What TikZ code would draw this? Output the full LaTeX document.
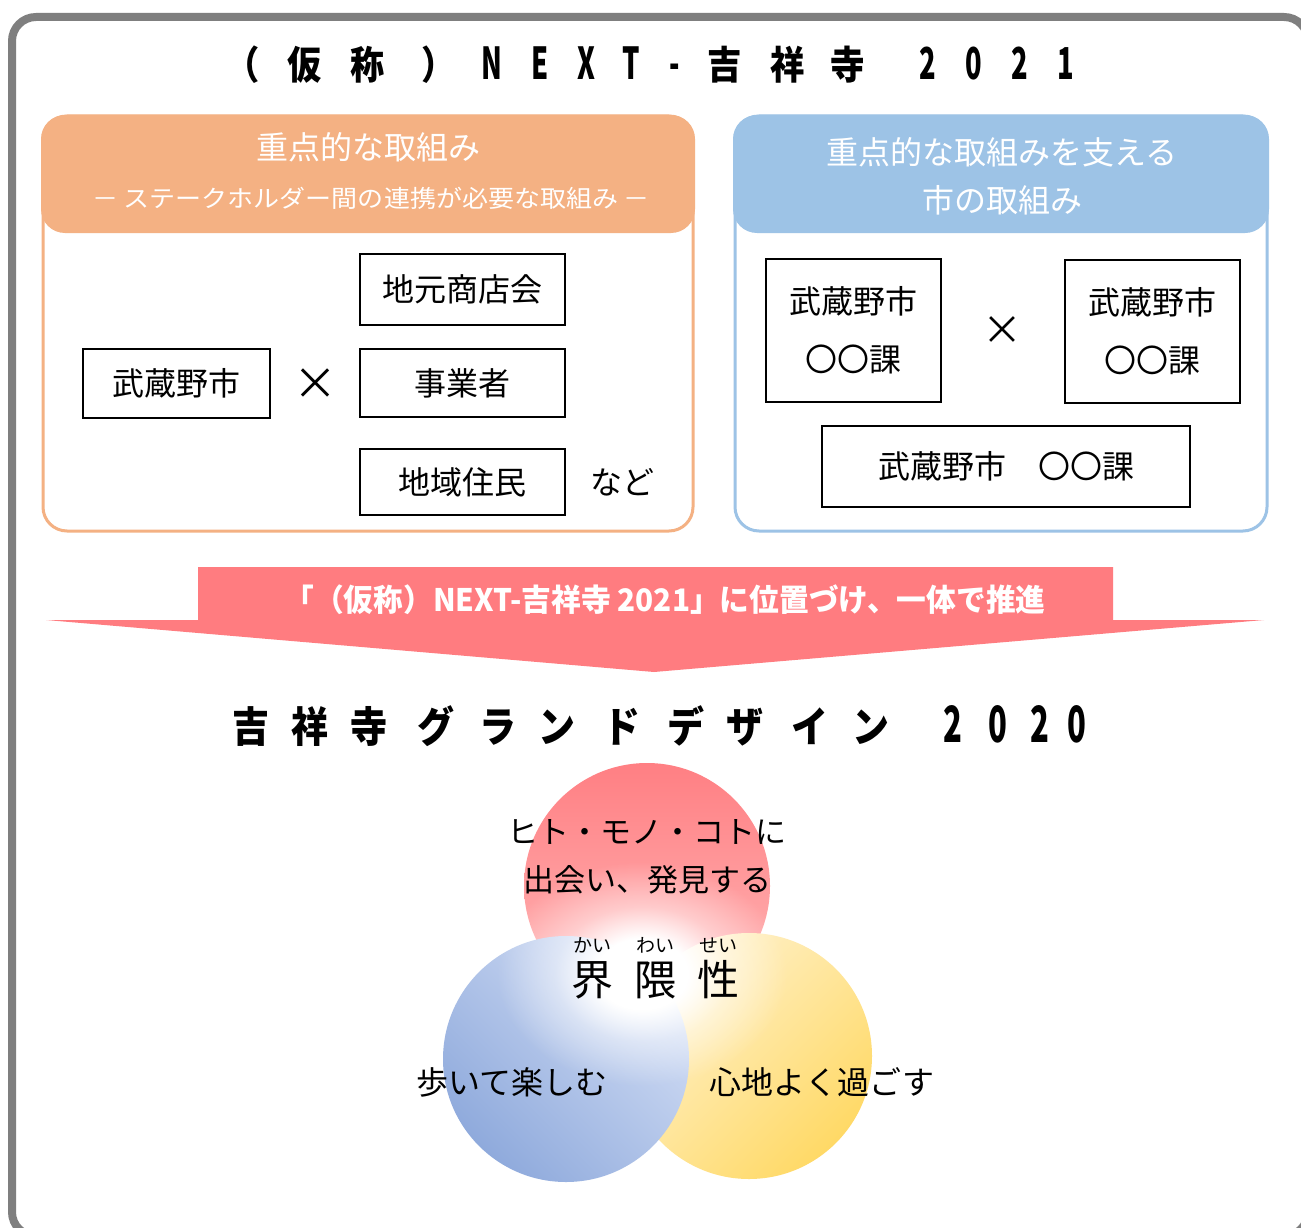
\documentclass[tikz,border=0pt]{standalone}
\usepackage{fontspec}
\usepackage{graphicx}
\usetikzlibrary{fadings}
\setmainfont{Noto Sans CJK JP}
\newfontfamily\tk[FakeStretch=0.88]{Noto Sans CJK JP}
\newfontfamily\tl[FakeStretch=0.62]{Noto Sans CJK JP}
\definecolor{framegray}{HTML}{7F7F7F}
\definecolor{orng}{HTML}{F4B183}
\definecolor{blu}{HTML}{9DC3E6}
\definecolor{banner}{HTML}{FF7C80}
\definecolor{redtop}{HTML}{FF7F83}
\definecolor{redbot}{HTML}{FFB8B8}
\definecolor{bluedark}{HTML}{8FAADC}
\definecolor{bluelight}{HTML}{D3DEF5}
\definecolor{yeldark}{HTML}{FFD966}
\definecolor{yellight}{HTML}{FFF2CF}
\pgfdeclareradialshading{glowshade}{\pgfpoint{0bp}{0bp}}{color(0bp)=(white); color(8bp)=(white); color(15bp)=(white!45!black); color(25bp)=(black); color(50bp)=(black)}
\pgfdeclarefading{glowfade}{\pgfuseshading{glowshade}}
\tikzset{
  blackbox/.style={draw=black, line width=2.5, inner sep=0, align=center},
  bodytext/.style={font=\fontsize{32}{38}\selectfont, inner sep=0},
  headtext/.style={text=white, inner sep=0, align=center},
  titlek/.style={anchor=base, inner sep=0, font=\tk\bfseries\fontsize{39}{39}\selectfont},
  titlel/.style={anchor=base, inner sep=0, font=\tl\bfseries\fontsize{44}{44}\selectfont},
  headk/.style={anchor=base, inner sep=0, font=\tk\bfseries\fontsize{42}{42}\selectfont},
  headl/.style={anchor=base, inner sep=0, font=\tl\bfseries\fontsize{50}{50}\selectfont},
}
\begin{document}
\begin{tikzpicture}[x=1pt,y=-1pt]
\useasboundingbox (0,0) rectangle (1301,1228);
\fill[white] (0,0) rectangle (1301,1228);
% outer frame
\draw[framegray, line width=8, rounded corners=24] (12,17) rectangle (1308,1236);

% title
\foreach \c/\x [count=\i] in {（/243, 仮/305, 称/368, ）/439, 吉/725, 祥/788, 寺/848}
  \node[titlek] (tk\i) at (\x,80) {\c};
\foreach \c/\x [count=\i] in {N/492, E/540, X/586, T/631, -/675, 2/928, 0/974, 2/1020, 1/1066}
  \node[titlel] (tl\i) at (\x,80) {\c};

% orange panel
\draw[orng, line width=3, rounded corners=24] (43,116) rectangle (693,531);
\fill[orng, rounded corners=24] (41,115) rectangle (695,233);
\node[headtext, font=\fontsize{32}{32}\selectfont] (ohead) at (368,147) {重点的な取組み};
\node[headtext] (osub) at (371,198) {\resizebox{558pt}{\height}{\fontsize{24}{24}\selectfont － ステークホルダー間の連携が必要な取組み －}};

\node[blackbox, minimum width=205, minimum height=71, bodytext] (shop) at (462.5,289.5) {地元商店会};
\node[blackbox, minimum width=205, minimum height=68, bodytext] (biz) at (462.5,383) {事業者};
\node[blackbox, minimum width=205, minimum height=66, bodytext] (resid) at (462.5,482) {地域住民};
\node[blackbox, minimum width=187, minimum height=69, bodytext] (city) at (176.5,383.5) {武蔵野市};
\node[inner sep=0, font=\fontsize{44}{44}\selectfont] (xl) at (315,384) {×};
\node[bodytext] (nado) at (622,482) {など};

% blue panel
\draw[blu, line width=3, rounded corners=24] (735,116) rectangle (1267,531);
\fill[blu, rounded corners=24] (733,115) rectangle (1269,233);
\node[headtext, font=\fontsize{32}{48}\selectfont] (bhead) at (1002,176) {重点的な取組みを支える\\市の取組み};

\node[blackbox, minimum width=175, minimum height=143, font=\fontsize{32}{58}\selectfont] (dept1) at (853.5,330.5) {武蔵野市\\〇〇課};
\node[blackbox, minimum width=175, minimum height=143, font=\fontsize{32}{58}\selectfont] (dept2) at (1152.5,331.5) {武蔵野市\\〇〇課};
\node[blackbox, minimum width=368, minimum height=81, bodytext] (dept3) at (1006,466.5) {武蔵野市　〇〇課};
\node[inner sep=0, font=\fontsize{40}{40}\selectfont] (xr) at (1002,331) {×};

% banner arrow
\fill[banner] (198,567) -- (1113,567) -- (1113,620) -- (1264,620) -- (654,672) -- (46,620) -- (198,620) -- cycle;
\node[inner sep=0, text=white] (bantext) at (665,600) {\resizebox{761pt}{\height}{\bfseries\fontsize{31}{31}\selectfont 「（仮称）NEXT-吉祥寺 2021」に位置づけ、一体で推進}};

% heading
\foreach \c/\x [count=\i] in {吉/251, 祥/310, 寺/369, グ/436, ラ/498, ン/557, ド/622, デ/686, ザ/745, イ/810, ン/871}
  \node[headk] (hk\i) at (\x,742) {\c};
\foreach \c/\x [count=\i] in {2/953, 0/998, 2/1040, 0/1077}
  \node[headl] (hl\i) at (\x,742) {\c};

% circles
\shade[top color=redtop, bottom color=redbot] (647,886) circle (123);
\shade[top color=yellight, bottom color=yeldark, shading angle=45] (749,1056) circle (123);
\shade[top color=bluelight, bottom color=bluedark, shading angle=-45] (566,1059) circle (123);
\fill[white, path fading=glowfade] (642,974) ellipse (145 and 112);

\node[bodytext, font=\fontsize{31}{31}\selectfont] (c1a) at (647,832) {ヒト・モノ・コトに};
\node[bodytext, font=\fontsize{31}{31}\selectfont] (c1b) at (647,880) {出会い、発見する};
\node[bodytext] (c2) at (512,1082) {歩いて楽しむ};
\node[bodytext] (c3) at (822,1082) {心地よく過ごす};
\foreach \k/\r/\x [count=\i] in {界/かい/592, 隈/わい/655, 性/せい/718}{
  \node[inner sep=0, font=\fontsize{19}{19}\selectfont] (ruby\i) at (\x,945) {\r};
  \node[inner sep=0, font=\fontsize{42}{42}\selectfont] (kai\i) at (\x,980) {\k};
}
\end{tikzpicture}
\end{document}
